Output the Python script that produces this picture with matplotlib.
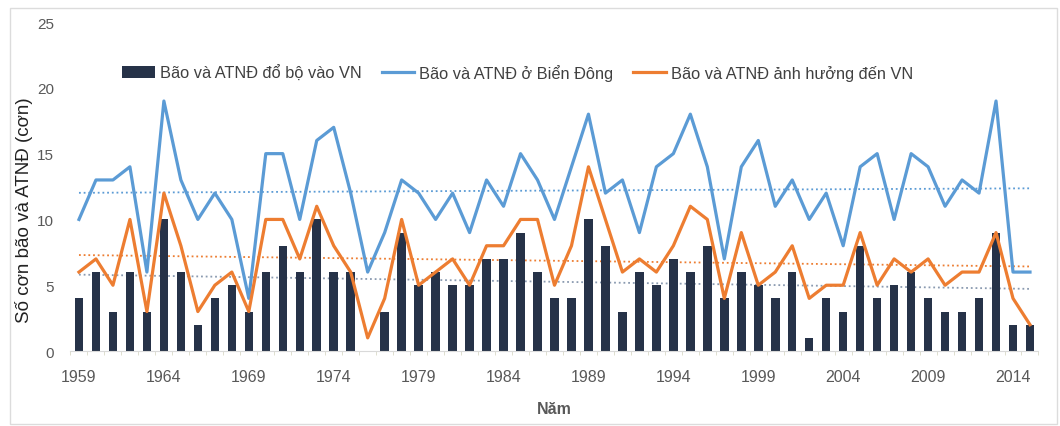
import numpy as np
import matplotlib
matplotlib.use("Agg")
import matplotlib.pyplot as plt
from matplotlib.patches import Rectangle

years = list(range(1959, 2016))

landfall = [4, 6, 3, 6, 3, 10, 6, 2, 4, 5, 3, 6, 8, 6, 10, 6, 6, 0, 3, 9,
            5, 6, 5, 5, 7, 7, 9, 6, 4, 4, 10, 8, 3, 6, 5, 7, 6, 8, 4, 6,
            5, 4, 6, 1, 4, 3, 8, 4, 5, 6, 4, 3, 3, 4, 9, 2, 2]

east_sea = [10, 13, 13, 14, 6, 19, 13, 10, 12, 10, 4, 15, 15, 10, 16, 17, 12, 6, 9, 13,
            12, 10, 12, 9, 13, 11, 15, 13, 10, 14, 18, 12, 13, 9, 14, 15, 18, 14, 7, 14,
            16, 11, 13, 10, 12, 8, 14, 15, 10, 15, 14, 11, 13, 12, 19, 6, 6]

affect_vn = [6, 7, 5, 10, 3, 12, 8, 3, 5, 6, 3, 10, 10, 7, 11, 8, 6, 1, 4, 10,
             5, 6, 7, 5, 8, 8, 10, 10, 5, 8, 14, 10, 6, 7, 6, 8, 11, 10, 4, 9,
             5, 6, 8, 4, 5, 5, 9, 5, 7, 6, 7, 5, 6, 6, 9, 4, 2]

labels = ["Bão và ATNĐ đổ bộ vào VN", "Bão và ATNĐ ở Biển Đông", "Bão và ATNĐ ảnh hưởng đến VN"]
ylabel = "Số cơn bão và ATNĐ (cơn)"
xlabel = "Năm"

plt.rcParams['font.family'] = ['Liberation Sans', 'DejaVu Sans']

c_bar = "#263248"
c_blue = "#5b9bd5"
c_orange = "#ed7d31"
c_bartrend = "#8a9ab0"

fig = plt.figure(figsize=(10.6, 4.27), dpi=100)
ax = fig.add_axes([0.0665, 0.1756, 0.9132, 0.7704])

x = np.array(years)
h_bar = ax.bar(x, landfall, width=0.5, color=c_bar, zorder=2, label=labels[0])
h_blue, = ax.plot(x, east_sea, color=c_blue, lw=2.3, zorder=3, label=labels[1])
h_orange, = ax.plot(x, affect_vn, color=c_orange, lw=2.3, zorder=4, label=labels[2])

for series, col in [(landfall, c_bartrend), (east_sea, c_blue), (affect_vn, c_orange)]:
    k, b = np.polyfit(x, series, 1)
    ax.plot(x, k * x + b, color=col, lw=1.3, ls=(0, (1, 1.6)), zorder=1)

ax.set_xlim(1958.5, 2015.5)
ax.set_ylim(0, 25)
ax.set_yticks([0, 5, 10, 15, 20, 25])
ax.set_xticks(years[::5])
ax.set_xticks(np.arange(1958.5, 2016, 1), minor=True)
ax.tick_params(axis='x', which='major', length=0, labelsize=11.5, labelcolor="#595959", pad=13)
ax.tick_params(axis='x', which='minor', length=3, color="#d9d9c8")
ax.tick_params(axis='y', length=0, labelsize=11, labelcolor="#595959", pad=12)

for s in ['top', 'right', 'left']:
    ax.spines[s].set_visible(False)
ax.spines['bottom'].set_color("#d9d9d9")

ax.set_ylabel(ylabel, fontsize=13.5, color="#222222")
ax.yaxis.set_label_coords(-0.039, 0.43)
ax.set_xlabel(xlabel, fontsize=11.5, color="#595959", fontweight='bold', labelpad=12)

leg = ax.legend(handles=[h_bar, h_blue, h_orange], labels=labels,
                loc='center', bbox_to_anchor=(0.462, 0.848), ncol=3, frameon=False,
                fontsize=11.8, handlelength=2.0, columnspacing=1.2, handletextpad=0.3,
                labelcolor="#404040")

fig.patches.append(Rectangle((0.009, 0.005), 0.988, 0.975, transform=fig.transFigure,
                             fill=False, edgecolor="#dcdcdc", lw=1.0))

fig.savefig("out.png", dpi=100)
